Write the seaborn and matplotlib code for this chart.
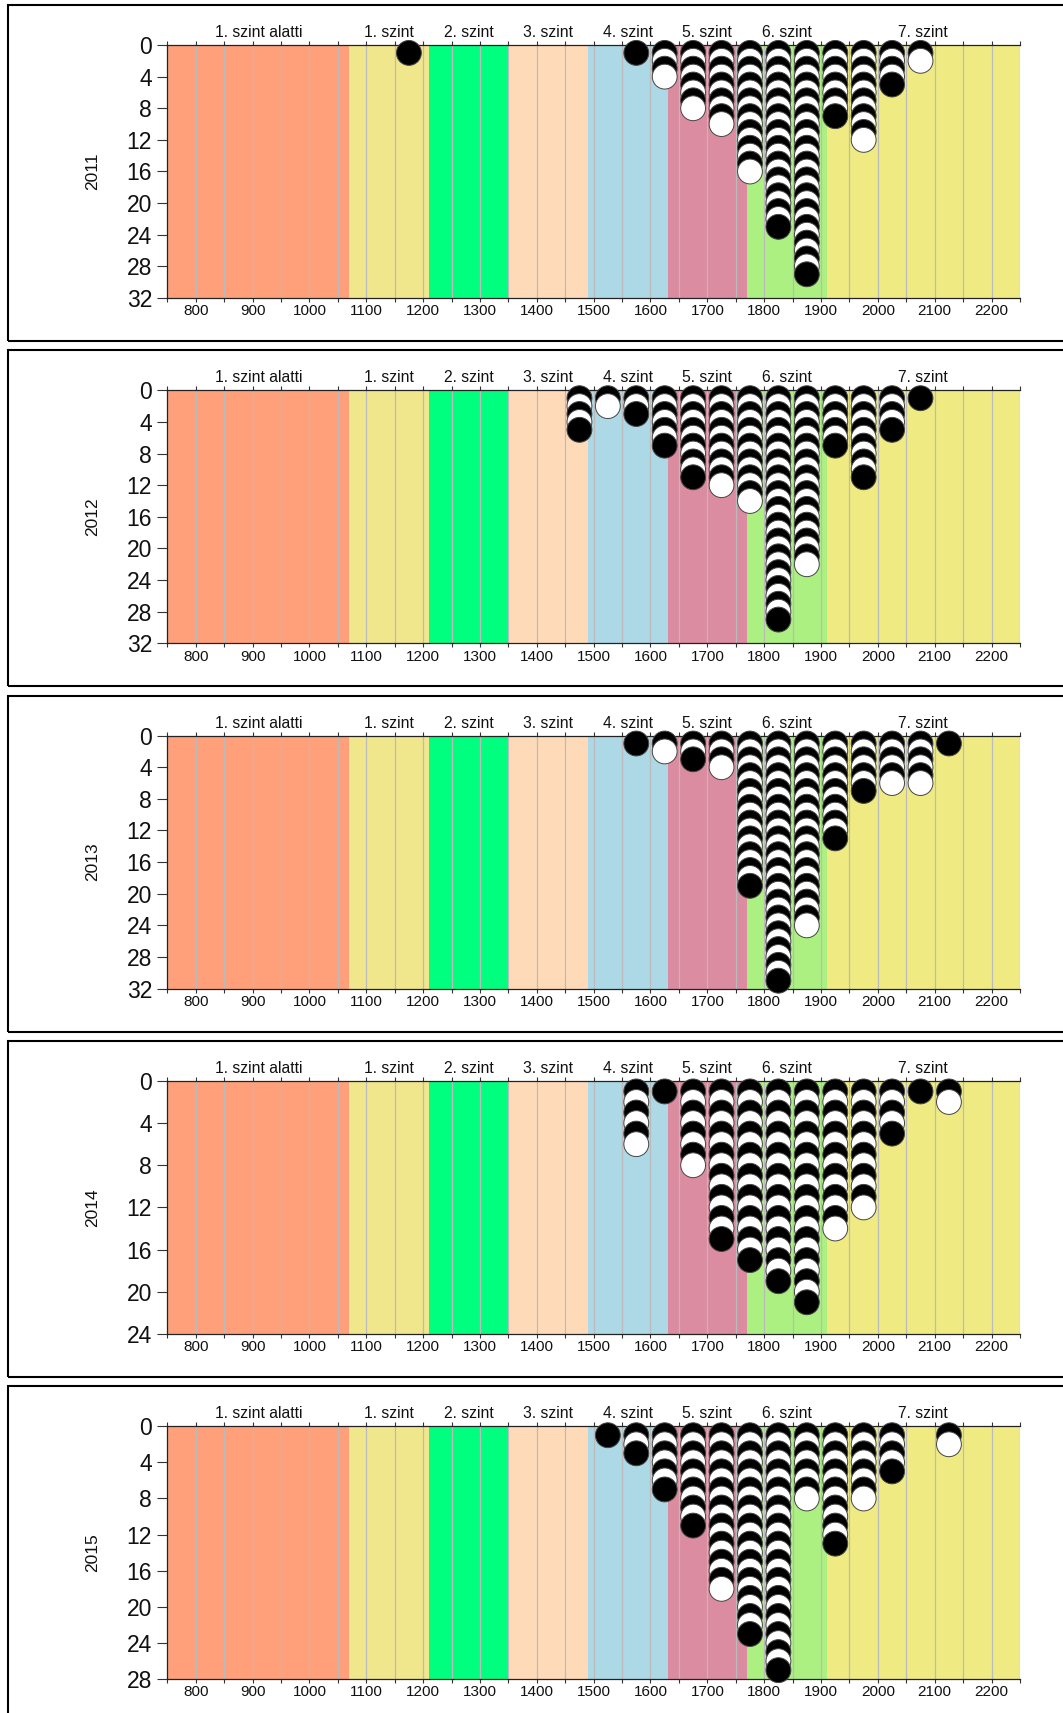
import numpy as np
import pandas as pd
import matplotlib
matplotlib.use("Agg")
import matplotlib.pyplot as plt
import matplotlib.transforms as mtransforms
from matplotlib.patches import Rectangle
import seaborn as sns

# ---------------- data ----------------
years = [2011, 2012, 2013, 2014, 2015]
y_max = [32, 32, 32, 24, 28]

bin_centers = [1175, 1475, 1525, 1575, 1625, 1675, 1725, 1775,
               1825, 1875, 1925, 1975, 2025, 2075, 2125]
counts_2011 = [1, 0, 0, 1, 4, 8, 10, 16, 23, 29, 9, 12, 5, 2, 0]
counts_2012 = [0, 5, 2, 3, 7, 11, 12, 14, 29, 22, 7, 11, 5, 1, 0]
counts_2013 = [0, 0, 0, 1, 2, 3, 4, 19, 31, 24, 13, 7, 6, 6, 1]
counts_2014 = [0, 0, 0, 6, 1, 8, 15, 17, 19, 21, 14, 12, 5, 1, 2]
counts_2015 = [0, 0, 1, 3, 7, 11, 18, 23, 27, 8, 13, 8, 5, 0, 2]
counts_by_year = [counts_2011, counts_2012, counts_2013, counts_2014, counts_2015]

level_names = ["1. szint alatti", "1. szint", "2. szint", "3. szint",
               "4. szint", "5. szint", "6. szint", "7. szint"]
level_edges = [750, 1070, 1210, 1350, 1490, 1630, 1770, 1910, 2250]
level_colors = ["#FFA07A", "#F0E68C", "#00FF7F", "#FFDAB9",
                "#ADD8E6", "#DC8CA0", "#ADF082", "#EFEB82"]

x_ticks = list(range(800, 2201, 100))
x_minor = list(range(750, 2251, 50))

# ---------------- layout ----------------
W, H = 1063, 1713
DPI = 100
sns.set_style("white")
plt.rcParams["font.family"] = ["Liberation Sans", "DejaVu Sans"]

fig = plt.figure(figsize=(W / DPI, H / DPI), dpi=DPI)

box_top0 = 5.0
box_step = 345.3
box_h = 336.0
ax_left, ax_right = 167.3, 1020.0
ax_off, ax_h = 40.0, 253.0

for k, (year, ymax, counts) in enumerate(zip(years, y_max, counts_by_year)):
    btop = box_top0 + k * box_step
    # panel frame
    fig.add_artist(Rectangle((8 / W, 1 - (btop + box_h) / H), (1200 - 8) / W, box_h / H,
                             transform=fig.transFigure, fill=False,
                             lw=1.5, ec="black", clip_on=False))
    atop = btop + ax_off
    ax = fig.add_axes([ax_left / W, 1 - (atop + ax_h) / H,
                       (ax_right - ax_left) / W, ax_h / H])

    # level bands
    for i, (name, col) in enumerate(zip(level_names, level_colors)):
        ax.axvspan(level_edges[i], level_edges[i + 1], color=col, lw=0, zorder=0.1)
    trans = mtransforms.blended_transform_factory(ax.transData, ax.transAxes)
    for i, name in enumerate(level_names):
        mid = (level_edges[i] + level_edges[i + 1]) / 2
        ax.text(mid, 1 + 8 / ax_h, name, transform=trans, ha="center",
                va="baseline", fontsize=11.3, color="#111111")

    # dots
    rows = []
    for xc, n in zip(bin_centers, counts):
        for j in range(1, n + 1):
            rows.append({"x": xc, "y": j, "fill": "odd" if j % 2 else "even"})
    df = pd.DataFrame(rows).sort_values("y", kind="stable")
    sns.scatterplot(data=df, x="x", y="y", hue="fill",
                    palette={"odd": "black", "even": "white"},
                    s=320, edgecolor="#444444", linewidth=0.7,
                    legend=False, ax=ax, zorder=5, clip_on=False)

    ax.set_xlim(750, 2250)
    ax.set_ylim(ymax, 0)
    ax.set_xticks(x_ticks)
    ax.set_xticks(x_minor, minor=True)
    ax.set_yticks(list(range(0, ymax + 1, 4)))
    ax.set_xlabel("")
    ax.set_ylabel("")
    ax.grid(which="both", axis="x", color="#BBBBBB", lw=0.9, zorder=0.5)
    ax.grid(axis="y", visible=False)
    ax.set_axisbelow(True)
    ax.tick_params(axis="x", which="both", top=True, bottom=True,
                   direction="out", length=3, width=0.8, color="#333333",
                   labelsize=11, pad=1.5, labelcolor="#111111")
    ax.tick_params(axis="y", which="both", left=True, direction="out",
                   length=7, width=0.8, color="#333333",
                   labelsize=16.5, pad=4, labelcolor="#111111")
    for side in ["top", "bottom", "left"]:
        ax.spines[side].set_visible(True)
        ax.spines[side].set_color("#222222")
        ax.spines[side].set_linewidth(0.9)
    ax.spines["right"].set_visible(False)

    fig.text(92.7 / W, 1 - (atop + ax_h / 2) / H, str(year), rotation=90,
             ha="center", va="center", fontsize=12.5, color="#111111")

fig.savefig("out.png", dpi=DPI)
